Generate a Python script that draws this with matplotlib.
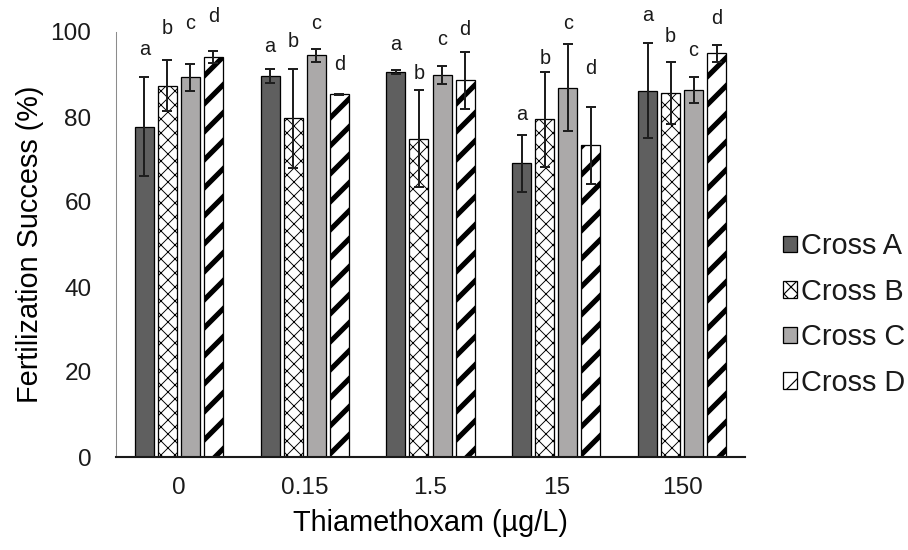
import matplotlib
matplotlib.use("Agg")
import matplotlib.pyplot as plt
import numpy as np

# ---- data -------------------------------------------------------------
concentrations = ["0", "0.15", "1.5", "15", "150"]
crosses = ["Cross A", "Cross B", "Cross C", "Cross D"]

cross_a_mean = [77.7, 89.7, 90.6, 69.1, 86.2]
cross_a_err = [11.6, 1.6, 0.5, 6.7, 11.1]
cross_b_mean = [87.4, 79.7, 74.9, 79.5, 85.6]
cross_b_err = [6.1, 11.7, 11.4, 11.2, 7.3]
cross_c_mean = [89.3, 94.5, 89.8, 86.9, 86.4]
cross_c_err = [3.2, 1.5, 2.1, 10.2, 3.0]
cross_d_mean = [94.1, 85.3, 88.6, 73.3, 95.0]
cross_d_err = [1.5, 0.2, 6.8, 9.1, 2.0]

group_letters = ["a", "b", "c", "d"]
# baseline heights (in % units) of the significance letters
letter_a_y = [94.5, 95.3, 95.7, 79.4, 102.6]
letter_b_y = [99.5, 96.4, 89.0, 92.4, 97.6]
letter_c_y = [100.8, 100.6, 97.0, 100.6, 94.3]
letter_d_y = [102.3, 91.1, 99.2, 90.0, 101.9]

# ---- style ------------------------------------------------------------
DPI = 84
W, H = 908, 550
TICK_FS = 20.9
LABEL_FS = 24.8
LEGEND_FS = 24.8
TEXT = "#1a1a1a"
plt.rcParams["font.family"] = ["Liberation Sans", "DejaVu Sans"]
plt.rcParams["text.color"] = TEXT

means = [cross_a_mean, cross_b_mean, cross_c_mean, cross_d_mean]
errs = [cross_a_err, cross_b_err, cross_c_err, cross_d_err]
letter_ys = [letter_a_y, letter_b_y, letter_c_y, letter_d_y]
fills = ["#5f5f5f", "white", "#aba9a9", "white"]
hatches = [None, "xx", None, "/"]
hatch_lw = [1.0, 0.8, 1.0, 4.4]

fig = plt.figure(figsize=(W / DPI, H / DPI), dpi=DPI)
ax = fig.add_axes([116 / W, 1 - 457 / H, (745 - 116) / W, (457 - 32) / H])

x = np.arange(len(concentrations))
step = 0.183
width = 0.151
offsets = (np.arange(4) - 1.5) * step

handles = []
for i in range(4):
    with plt.rc_context({"hatch.linewidth": hatch_lw[i], "hatch.color": "black"}):
        bars = ax.bar(x + offsets[i], means[i], width, color=fills[i],
                      edgecolor="black", linewidth=1.1, hatch=hatches[i],
                      label=crosses[i], zorder=2)
        for b in bars:
            try:
                b.set_hatch_linewidth(hatch_lw[i])
            except AttributeError:
                pass
    handles.append(bars)
    ax.errorbar(x + offsets[i], means[i], yerr=errs[i], fmt="none",
                ecolor="#1e1e1e", elinewidth=1.7, capsize=4.6, capthick=1.7,
                zorder=3)
    for xi, yi in zip(x + offsets[i], letter_ys[i]):
        ax.text(xi, yi, group_letters[i], ha="center", va="baseline",
                fontsize=17, color=TEXT, clip_on=False)

ax.set_xlim(-0.5, len(concentrations) - 0.5)
ax.set_ylim(0, 100)
ax.set_yticks([0, 20, 40, 60, 80, 100])
ax.set_xticks(x)
ax.set_xticklabels(concentrations)
ax.tick_params(axis="both", length=0, labelsize=TICK_FS, colors=TEXT)
ax.tick_params(axis="y", pad=21)
ax.tick_params(axis="x", pad=17)

for side in ("top", "right"):
    ax.spines[side].set_visible(False)
ax.spines["left"].set_color("#8c8c8c")
ax.spines["left"].set_linewidth(0.9)
ax.spines["bottom"].set_color("#1a1a1a")
ax.spines["bottom"].set_linewidth(1.8)

ax.set_ylabel("Fertilization Success (%)", fontsize=LABEL_FS, labelpad=6)
ax.set_xlabel("Thiamethoxam (\u00b5g/L)", fontsize=LABEL_FS, labelpad=9)

fig.legend(handles=handles, labels=crosses, loc="center right",
           bbox_to_anchor=(905 / W, 1 - 314.5 / H), frameon=False,
           borderpad=0, borderaxespad=0, handlelength=0.5,
           handleheight=0.5, handletextpad=0.12, labelspacing=0.6,
           fontsize=LEGEND_FS)

fig.savefig("out.png", dpi=DPI)
